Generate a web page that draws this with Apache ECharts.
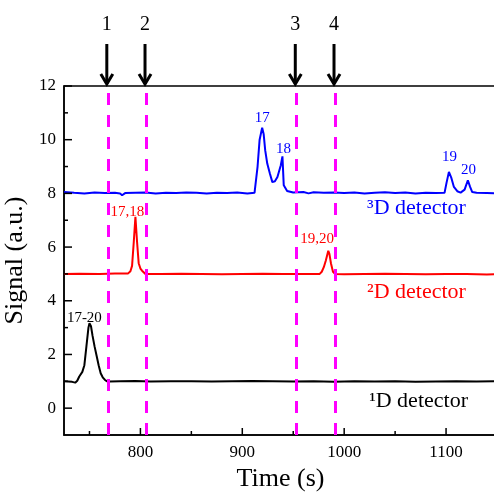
<!DOCTYPE html>
<html>
<head>
<meta charset="utf-8">
<script src="https://cdn.jsdelivr.net/npm/echarts@6/dist/echarts.min.js"></script>
<style>
html,body{margin:0;padding:0;background:#fff;}
#c{width:494px;height:493px;}
</style>
</head>
<body>
<div id="c"></div>
<script>
// ---- data ----
const timeBlack = [725,729,733,736,738,740,743,745,747,749,750,751.5,753,755,757,759,761,763,765,767,770,780,795,810,830,850,870,890,910,930,950,970,990,1010,1030,1050,1070,1090,1110,1130,1150];
const signalBlack = [1.0,0.99,0.98,0.95,1.02,1.18,1.35,1.6,2.3,3.0,3.16,3.05,2.7,2.3,1.95,1.6,1.3,1.15,1.06,1.0,0.99,1.0,1.01,0.99,1.0,1.0,0.99,1.0,1.01,1.0,0.99,1.0,0.98,1.0,0.99,1.0,0.98,0.99,1.0,0.99,1.0];

const timeRed = [725,740,760,775,788,790.2,791.8,793.5,795.1,796.7,798.3,800,801.6,804.9,820,840,860,880,900,920,940,960,976,978,980,982,984.4,985.5,987,989,991,1000,1020,1040,1060,1080,1100,1120,1140,1150];
const signalRed = [5.0,5.01,5.0,5.02,5.02,5.1,5.3,6.2,7.13,6.2,5.4,5.2,5.12,5.0,5.0,5.01,5.0,4.99,5.0,5.01,5.0,5.0,5.0,5.08,5.25,5.5,5.86,5.75,5.4,5.08,5.0,4.99,5.0,5.01,5.0,4.99,5.0,5.0,4.98,4.99];

const timeBlue = [725,735,745,755,765,775,780,782,785,795,805,815,825,835,845,855,865,875,885,895,905,912,913.6,915,917,919.5,921,922.5,924.5,927,929.5,932,934.5,937.8,939.4,940.7,944,950,960,965,970,980,990,1000,1010,1020,1030,1040,1050,1060,1070,1080,1090,1098.5,1100.5,1102.8,1105,1107.7,1111,1114.3,1118.2,1121.4,1123.5,1125.7,1130,1140,1150];
const signalBlue = [8.05,8.02,8.0,8.03,8.01,8.02,8.0,7.93,8.01,8.02,8.03,8.0,8.02,8.01,8.03,8.02,8.0,8.02,8.01,8.03,8.0,8.02,8.05,9.0,10.0,10.45,10.2,9.6,9.11,8.75,8.42,8.45,8.61,9.05,9.38,8.3,8.09,8.03,8.05,8.0,8.04,8.02,8.03,8.01,8.03,8.0,8.02,8.04,8.01,8.03,8.0,8.02,8.01,8.02,8.4,8.8,8.6,8.24,8.08,8.03,8.14,8.49,8.25,8.05,8.02,8.01,8.0];

const markerTimes = [768, 805.5, 953, 991];
const markerNames = ['1', '2', '3', '4'];

const xMajorTicks = [800, 900, 1000, 1100];
const xMinorTicks = [750, 850, 950, 1050, 1150];
const yMajorTicks = [0, 2, 4, 6, 8, 10, 12];
const yMinorTicks = [1, 3, 5, 7, 9, 11];

const peakLabelsBlack = [{text: '17-20', t: 745, v: 3.36}];
const peakLabelsRed = [{text: '17,18', t: 787.2, v: 7.32}, {text: '19,20', t: 973.5, v: 6.29}];
const peakLabelsBlue = [{text: '17', t: 919.5, v: 10.8}, {text: '18', t: 940.4, v: 9.64}, {text: '19', t: 1103.4, v: 9.34}, {text: '20', t: 1122.1, v: 8.87}];
const detectorLabels = [
  {text: '\u00B3D detector', t: 1071, v: 7.46, series: 2},
  {text: '\u00B2D detector', t: 1071, v: 4.3, series: 1},
  {text: '\u00B9D detector', t: 1073, v: 0.24, series: 0}
];

const FONT = 'Liberation Serif, Times New Roman, serif';
const colors = ['#000000', '#ff0000', '#0000ff'];
const X_MIN = 725, X_MAX = 1150, Y_MIN = -1, Y_MAX = 12;

function pairs(ts, vs) { return ts.map((t, i) => [t, vs[i]]); }

function marks(list, color, size) {
  return list.map(p => ({
    coord: [p.t, p.v],
    symbol: 'circle', symbolSize: 1,
    itemStyle: {color: 'rgba(0,0,0,0)'},
    label: {show: true, formatter: p.text, position: 'inside', color: color,
      fontFamily: FONT, fontSize: size}
  }));
}

const chart = echarts.init(document.getElementById('c'), null, {renderer: 'canvas'});

const seriesData = [pairs(timeBlack, signalBlack), pairs(timeRed, signalRed), pairs(timeBlue, signalBlue)];
const peakSets = [peakLabelsBlack, peakLabelsRed, peakLabelsBlue];

const series = seriesData.map((d, i) => {
  const pts = marks(peakSets[i], colors[i], 15).concat(
    marks(detectorLabels.filter(l => l.series === i), colors[i], 22));
  return {
    type: 'line', data: d, symbol: 'none',
    lineStyle: {color: colors[i], width: 2}, animation: false, silent: true, z: 3,
    markPoint: {data: pts, animation: false, silent: true}
  };
});
series[1].markLine = {
  symbol: ['none', 'none'], silent: true, animation: false,
  label: {show: false},
  lineStyle: {color: '#ff00ff', width: 3, type: [12, 10]},
  data: markerTimes.map(t => [{coord: [t, Y_MIN]}, {coord: [t, Y_MAX]}])
};

const axisFont = {fontFamily: FONT, fontSize: 17, color: '#000'};

chart.setOption({
  animation: false,
  grid: {left: 64, right: -3, top: 86, bottom: 58, outerBoundsMode: 'none', containLabel: false,
    show: true, borderColor: '#000', borderWidth: 1.5, backgroundColor: 'transparent'},
  xAxis: {
    type: 'value', min: X_MIN, max: X_MAX,
    name: 'Time (s)', nameLocation: 'middle', nameGap: 29,
    nameTextStyle: {fontFamily: FONT, fontSize: 26, color: '#000'},
    axisLine: {onZero: false, lineStyle: {color: '#000', width: 1.5}},
    axisTick: {show: false},
    axisLabel: Object.assign({margin: 9, customValues: xMajorTicks, formatter: v => String(v)}, axisFont),
    splitLine: {show: false}
  },
  yAxis: {
    type: 'value', min: Y_MIN, max: Y_MAX,
    name: 'Signal (a.u.)', nameLocation: 'middle', nameGap: 30,
    nameTextStyle: {fontFamily: FONT, fontSize: 26, color: '#000'},
    axisLine: {onZero: false, lineStyle: {color: '#000', width: 1.5}},
    axisTick: {show: false},
    axisLabel: Object.assign({margin: 8, customValues: yMajorTicks, formatter: v => String(v)}, axisFont),
    splitLine: {show: false}
  },
  series: series
});

// ticks, arrows and numbers, positioned through the axis scales
const toX = t => chart.convertToPixel({xAxisIndex: 0}, t);
const toY = v => chart.convertToPixel({yAxisIndex: 0}, v);
const topY = toY(Y_MAX), botY = toY(Y_MIN), leftX = toX(X_MIN);
const graphics = [];
const tickStyle = {stroke: '#000', lineWidth: 1.5};
xMajorTicks.forEach(t => graphics.push({type: 'line', z: 10, shape: {x1: toX(t), y1: botY, x2: toX(t), y2: botY - 7}, style: tickStyle}));
xMinorTicks.forEach(t => graphics.push({type: 'line', z: 10, shape: {x1: toX(t), y1: botY, x2: toX(t), y2: botY - 4}, style: tickStyle}));
yMajorTicks.forEach(v => graphics.push({type: 'line', z: 10, shape: {x1: leftX, y1: toY(v), x2: leftX + 8, y2: toY(v)}, style: tickStyle}));
yMinorTicks.forEach(v => graphics.push({type: 'line', z: 10, shape: {x1: leftX, y1: toY(v), x2: leftX + 4, y2: toY(v)}, style: tickStyle}));
markerTimes.forEach((t, i) => {
  const px = toX(t) - 1;
  graphics.push({type: 'line', shape: {x1: px, y1: topY - 42, x2: px, y2: topY - 2}, style: {stroke: '#000', lineWidth: 3}});
  graphics.push({type: 'polyline', shape: {points: [[px - 6, topY - 12], [px, topY - 2], [px + 6, topY - 12]]}, style: {stroke: '#000', lineWidth: 3, fill: null}});
  graphics.push({type: 'text', x: px, y: topY - 61, style: {text: markerNames[i], fontFamily: FONT, fontSize: 20, fill: '#000', align: 'center', verticalAlign: 'middle'}});
});
chart.setOption({graphic: graphics});
</script>
</body>
</html>
